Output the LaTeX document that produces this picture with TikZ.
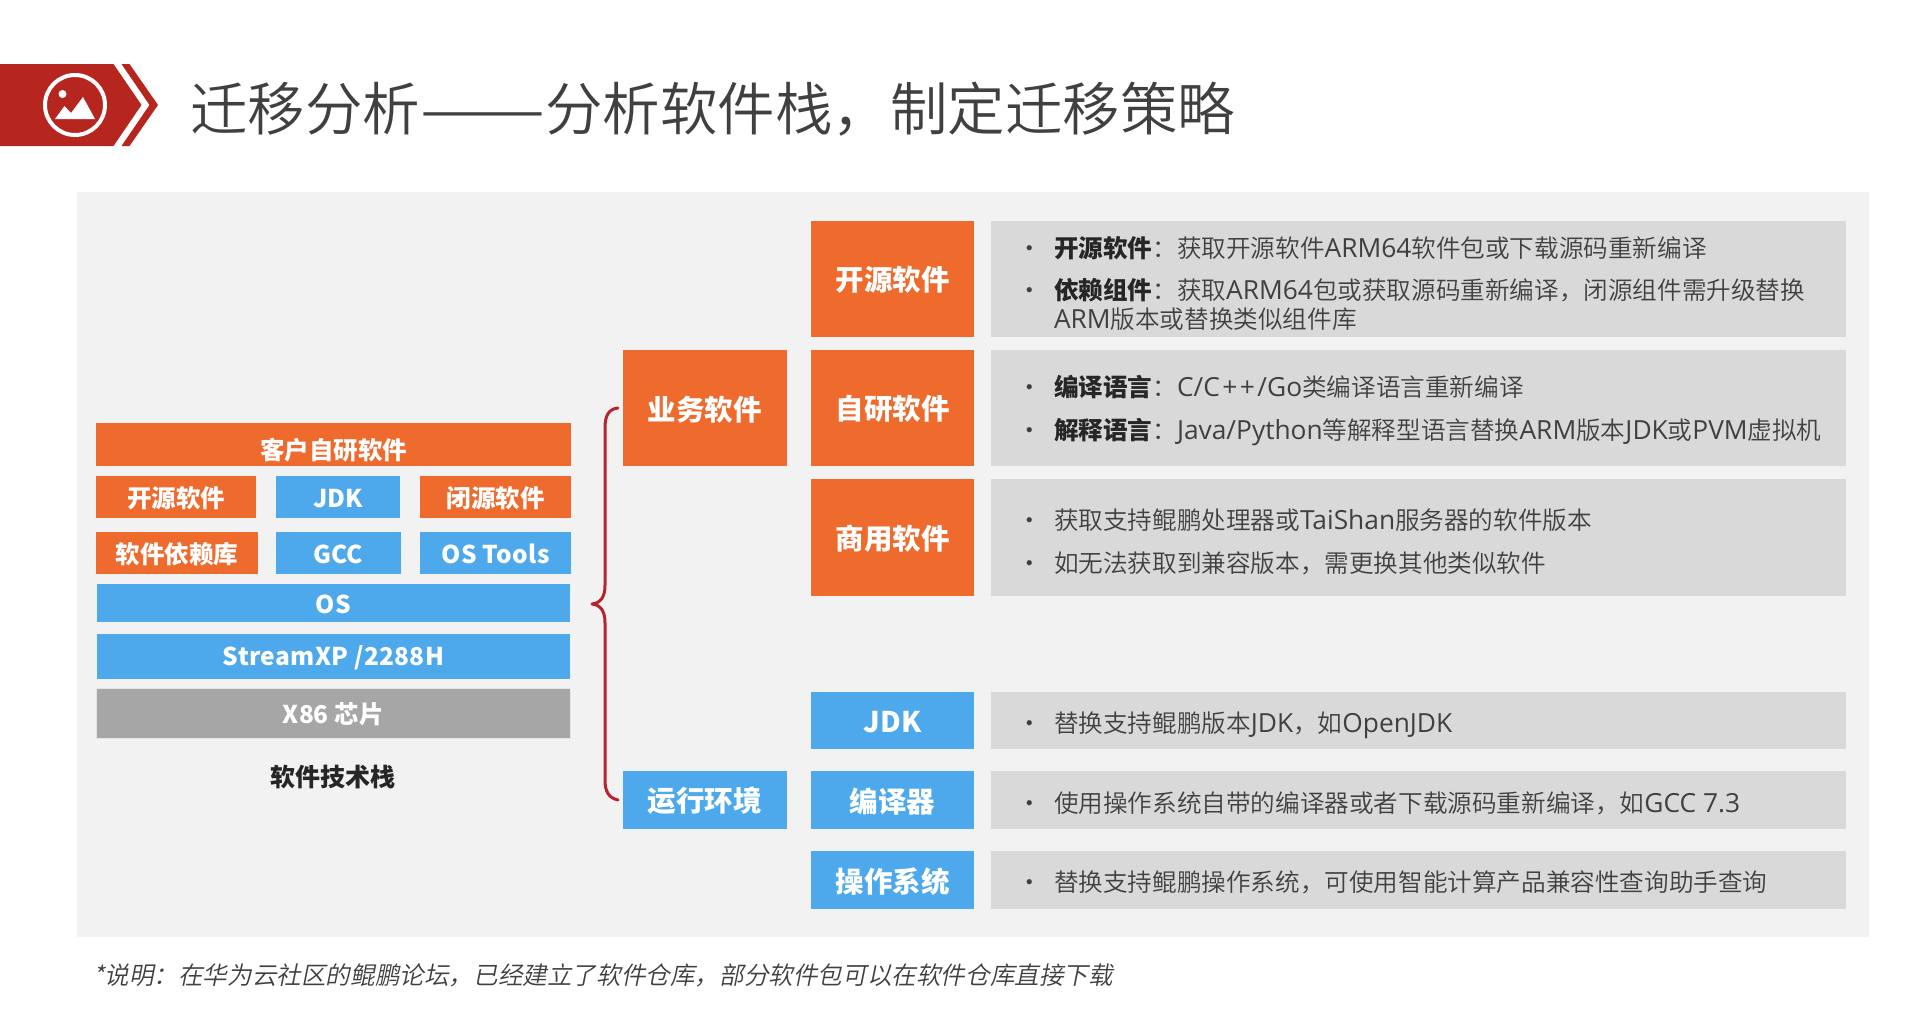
\documentclass[tikz,border=0pt]{standalone}
\usepackage{fontspec}
\setmainfont{Noto Sans CJK SC}
\newfontfamily\lightcjk{Noto Sans CJK SC DemiLight}
\newfontfamily\slantcjk{Noto Sans CJK SC DemiLight}[FakeSlant=0.2]
\newfontfamily\latinface{Open Sans}[Scale=1.07]
\newcommand\lat[1]{{\latinface #1}}
\newcommand\widelat[1]{{\addfontfeature{LetterSpace=1.5}#1}}
\definecolor{panelbg}{HTML}{F2F2F2}
\definecolor{orangebox}{HTML}{EE6B2D}
\definecolor{bluebox}{HTML}{4DA9EC}
\definecolor{chipgray}{HTML}{A6A6A6}
\definecolor{rowgray}{HTML}{D9D9D9}
\definecolor{bannerred}{HTML}{B7251F}
\definecolor{bracered}{HTML}{B5252E}
\definecolor{bodytext}{HTML}{404040}
\tikzset{
  rbase/.style={inner sep=0pt,outer sep=0pt,text=white,font=\fontsize{#1}{#1}\selectfont\bfseries},
  orangecell/.style={rbase=#1,fill=orangebox},
  bluecell/.style={rbase=#1,fill=bluebox},
  graycell/.style={rbase=#1,fill=chipgray},
  rowcell/.style={inner sep=0pt,outer sep=0pt,fill=rowgray},
  bodyline/.style={anchor=base west,inner sep=0pt,outer sep=0pt,text=bodytext,font=\fontsize{24.6}{29}\selectfont\lightcjk},
  bulletmark/.style={anchor=base,inner sep=0pt,outer sep=0pt,text=bodytext,font=\fontsize{24.5}{29}\selectfont},
}
\newcommand\lowered[2]{\raisebox{-#1}[\height][\depth]{#2}}
% name, style, x1, y1, x2, y2, text
\newcommand\cellat[7]{\node[#2,minimum width={(#5-#3)*1pt},minimum height={(#6-#4)*1pt}] (#1) at ({(#3+#5)/2},{(#4+#6)/2}) {\lowered{1.2pt}{#7}};}
% name, y centre, text
\newcommand\bulletline[3]{\node[bulletmark] (#1b) at (1030,#2+9) {•};\node[bodyline] (#1) at (1054,#2+9) {#3};}
\newcommand\boldlead[1]{{\color{black!85}\normalfont\bfseries #1}}
\begin{document}
\begin{tikzpicture}[x=1pt,y=-1pt]
\useasboundingbox (0,0) rectangle (1920,1009);
\fill[white] (0,0) rectangle (1920,1009);
% banner
\fill[bannerred] (0,64) -- (113.5,64) -- (141.5,105) -- (113.5,146) -- (0,146) -- cycle;
\fill[bannerred] (121.5,64) -- (129.5,64) -- (158,105) -- (129.5,146) -- (121.5,146) -- (149.5,105) -- cycle;
\draw[white,line width=4pt] (75,105) circle (30);
\fill[white] (62.5,94) circle (4);
\fill[white] (55,119) -- (64.5,106) -- (71,113) -- (83,97) -- (95,119) -- cycle;
\node[anchor=base west,inner sep=0pt,text=bodytext,font=\fontsize{57.5}{58}\selectfont\lightcjk] (title) at (190,130) {迁移分析\scalebox{1.3}[1]{——}分析软件栈，制定迁移策略};
% panel
\fill[panelbg] (77,192) rectangle (1869,937);
% stack
\cellat{custom}{orangecell=24.5}{96}{423}{571}{466}{\lowered{4.5pt}{客户自研软件}}
\cellat{open}{orangecell=24.5}{96}{476}{256}{518}{开源软件}
\cellat{jdka}{bluecell=24.5}{276}{476}{400}{518}{JDK}
\cellat{closed}{orangecell=24.5}{420}{476}{571}{518}{闭源软件}
\cellat{deps}{orangecell=24.5}{96}{532}{258}{574}{软件依赖库}
\cellat{gcc}{bluecell=24.5}{276}{532}{401}{574}{GCC}
\cellat{ostools}{bluecell=24.5}{420}{532}{571}{574}{\widelat{OS Tools}}
\cellat{os}{bluecell=24.5}{96.5}{584}{570}{622}{OS}
\cellat{stream}{bluecell=24.5}{97}{634}{570}{679}{\widelat{StreamXP /2288H}}
\cellat{xchip}{graycell=24.5,draw=white!70!chipgray,line width=.8pt}{96.5}{688}{570}{738}{X86 芯片}
\node[inner sep=0pt,text=black!85,font=\fontsize{25}{25}\selectfont\bfseries] (stacklabel) at (333,777) {软件技术栈};
% categories
\cellat{biz}{orangecell=28.5}{623}{350}{786.5}{466}{业务软件}
\cellat{run}{bluecell=28.5}{623}{771}{786.5}{829}{运行环境}
% brace
\coordinate (bracetip) at (592,604);
\draw[bracered,line width=3pt,line cap=round,line join=round]
  ([xshift=-5pt]biz.west) .. controls (609,409) and (605,415) .. (605,428)
  -- (605,585) .. controls (605,598) and (600,603) .. (bracetip)
  .. controls (600,605) and (605,610) .. (605,623)
  -- (605,780) .. controls (605,792) and (609,798) .. ([xshift=-5pt]run.west);
% right column
\cellat{ropen}{orangecell=28.5}{811}{221}{974}{337}{开源软件}
\cellat{rself}{orangecell=28.5}{811}{350}{974}{466}{自研软件}
\cellat{rcomm}{orangecell=28.5}{811}{479}{974}{596}{商用软件}
\cellat{rjdk}{bluecell=28.5}{811}{692}{974}{749}{JDK}
\cellat{rcomp}{bluecell=28.5}{811}{771}{974}{829}{编译器}
\cellat{ros}{bluecell=28.5}{811}{851}{974}{909}{操作系统}
\cellat{g1}{rowcell}{991}{221}{1846}{337}{}
\cellat{g2}{rowcell}{991}{350}{1846}{466}{}
\cellat{g3}{rowcell}{991}{479}{1846}{596}{}
\cellat{g4}{rowcell}{991}{692}{1846}{749}{}
\cellat{g5}{rowcell}{991}{771}{1846}{829}{}
\cellat{g6}{rowcell}{991}{851}{1846}{909}{}
\bulletline{t1}{248}{\boldlead{开源软件}：获取开源软件\lat{ARM64}软件包或下载源码重新编译}
\bulletline{t2}{290}{\boldlead{依赖组件}：获取\lat{ARM64}包或获取源码重新编译，闭源组件需升级替换}
\node[bodyline] (t2c) at (1054,319+9) {\lat{ARM}版本或替换类似组件库};
\bulletline{t3}{387}{\boldlead{编译语言}：\lat{C/C\kern2.5pt+\kern2.5pt+\kern2.5pt/Go}类编译语言重新编译}
\bulletline{t4}{430}{\boldlead{解释语言}：\lat{Java/Python}等解释型语言替换\lat{ARM}版本\lat{JDK}或\lat{PVM}虚拟机}
\bulletline{t5}{520}{获取支持鲲鹏处理器或\lat{TaiShan}服务器的软件版本}
\bulletline{t6}{563}{如无法获取到兼容版本，需更换其他类似软件}
\bulletline{t7}{723}{替换支持鲲鹏版本\lat{JDK}，如\lat{OpenJDK}}
\bulletline{t8}{803}{使用操作系统自带的编译器或者下载源码重新编译，如\lat{GCC 7.3}}
\bulletline{t9}{882}{替换支持鲲鹏操作系统，可使用智能计算产品兼容性查询助手查询}
\node[anchor=base west,inner sep=0pt,text=bodytext,font=\fontsize{24.6}{29}\selectfont\slantcjk] (note) at (93,984) {*说明：在华为云社区的鲲鹏论坛，已经建立了软件仓库，部分软件包可以在软件仓库直接下载};
\end{tikzpicture}
\end{document}
